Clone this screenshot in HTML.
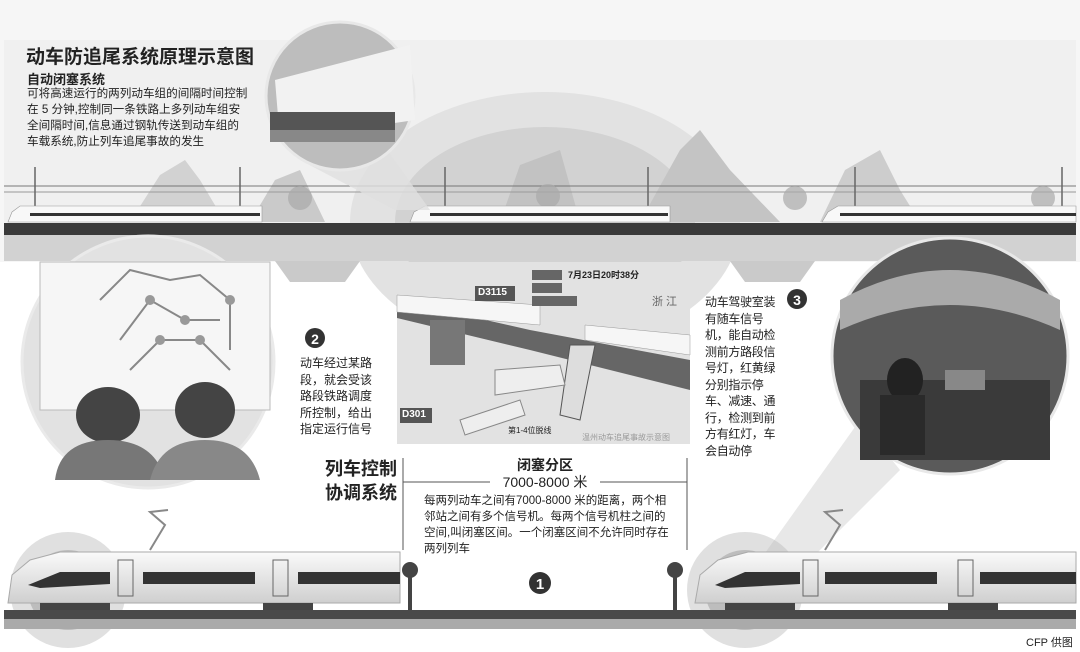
<!DOCTYPE html>
<html><head><meta charset="utf-8"><style>
body{margin:0;width:1080px;height:652px;overflow:hidden;background:#fff;font-family:"Liberation Sans","Noto Sans CJK SC",sans-serif;}
.t{position:absolute;color:#222;}
</style></head><body>
<svg width="1080" height="652" style="position:absolute;left:0;top:0">
<defs>
<linearGradient id="tr" x1="0" y1="0" x2="0" y2="1"><stop offset="0" stop-color="#fafafa"/><stop offset="1" stop-color="#cfcfcf"/></linearGradient>
</defs>
<rect x="0" y="0" width="1080" height="262" fill="#f6f6f6"/>
<rect x="4" y="40" width="1072" height="220" fill="#f0f0f0"/>
<path d="M130 222 L160 175 L185 160 L200 180 L225 222Z" fill="#d2d2d2"/>
<path d="M250 222 L275 180 L300 170 L325 222Z" fill="#cacaca"/>
<ellipse cx="545" cy="222" rx="195" ry="130" fill="#e2e2e2"/>
<ellipse cx="545" cy="222" rx="150" ry="95" fill="#d2d2d2"/>
<path d="M640 222 L680 150 L700 130 L730 170 L780 222Z" fill="#c4c4c4"/>
<path d="M820 222 L845 170 L880 150 L900 190 L920 222Z" fill="#cdcdcd"/>
<path d="M500 222 L520 165 L560 150 L580 222Z" fill="#c2c2c2"/>
<line x1="4" y1="186" x2="1076" y2="186" stroke="#777" stroke-width="1"/>
<line x1="4" y1="192" x2="1076" y2="192" stroke="#999" stroke-width="1"/>
<g stroke="#666" stroke-width="1.5"><line x1="35" y1="167" x2="35" y2="222"/><line x1="240" y1="167" x2="240" y2="222"/><line x1="445" y1="167" x2="445" y2="222"/><line x1="648" y1="167" x2="648" y2="222"/><line x1="855" y1="167" x2="855" y2="222"/><line x1="1062" y1="167" x2="1062" y2="222"/></g>
<g fill="#aaa" opacity=".7"><circle cx="300" cy="198" r="12"/><circle cx="548" cy="196" r="12"/><circle cx="795" cy="198" r="12"/><circle cx="1043" cy="198" r="12"/></g>
<g>
<path d="M8 222 L12 212 L20 206 L262 206 L262 222Z" fill="#f8f8f8" stroke="#999" stroke-width=".6"/>
<rect x="30" y="213" width="230" height="3" fill="#333"/>
<path d="M410 222 L414 212 L425 206 L670 206 L670 222Z" fill="#f8f8f8" stroke="#999" stroke-width=".6"/>
<rect x="430" y="213" width="238" height="3" fill="#333"/>
<path d="M822 222 L828 212 L838 206 L1076 206 L1076 222Z" fill="#f8f8f8" stroke="#999" stroke-width=".6"/>
<rect x="840" y="213" width="236" height="3" fill="#333"/>
</g>
<rect x="4" y="223" width="1072" height="12" fill="#3a3a3a"/>
<rect x="4" y="235" width="1072" height="26" fill="#d2d2d2"/>
<path d="M275 261 L290 282 L345 282 L360 261Z" fill="#cacaca"/>
<path d="M730 261 L745 282 L800 282 L815 261Z" fill="#cacaca"/>
<path d="M300 160 L395 210 L430 210 L380 140Z" fill="#e0e0e0" opacity=".8"/>
<circle cx="340" cy="96" r="74" fill="#bdbdbd" stroke="#e8e8e8" stroke-width="3"/>
<path d="M275 80 L410 45 L415 120 L280 140Z" fill="#f2f2f2"/>
<rect x="270" y="112" width="125" height="18" fill="#555"/>
<rect x="270" y="130" width="125" height="12" fill="#888"/>
<circle cx="148" cy="362" r="126" fill="#e2e2e2" stroke="#eaeaea" stroke-width="3"/>
<rect x="40" y="262" width="230" height="148" fill="#f6f6f6" stroke="#bbb"/>
<g stroke="#888" stroke-width="2" fill="none"><path d="M100 300 L130 270 L170 280 L200 275 L230 300 L230 350"/><path d="M120 340 L150 300 L185 320 L220 320"/><path d="M130 370 L160 340 L200 340 L230 370"/></g>
<g fill="#999"><circle cx="150" cy="300" r="5"/><circle cx="185" cy="320" r="5"/><circle cx="200" cy="340" r="5"/><circle cx="160" cy="340" r="5"/><circle cx="230" cy="300" r="5"/></g>
<ellipse cx="108" cy="415" rx="32" ry="28" fill="#444"/><path d="M55 480 Q60 440 108 440 Q155 440 165 480Z" fill="#777"/>
<ellipse cx="205" cy="410" rx="30" ry="28" fill="#444"/><path d="M150 480 Q160 440 205 440 Q250 440 260 480Z" fill="#888"/>
<path d="M760 560 L860 420 L900 470 L770 600Z" fill="#dedede" opacity=".7"/>
<circle cx="950" cy="356" r="118" fill="#5a5a5a" stroke="#e8e8e8" stroke-width="3"/>
<path d="M840 300 Q950 240 1060 300 L1060 330 Q950 280 840 330Z" fill="#aaa"/>
<rect x="860" y="380" width="190" height="80" fill="#3a3a3a"/>
<ellipse cx="905" cy="380" rx="18" ry="22" fill="#222"/>
<rect x="880" y="395" width="45" height="60" fill="#2a2a2a"/>
<rect x="945" y="370" width="40" height="20" fill="#888"/>
<rect x="397" y="262" width="293" height="182" fill="#e2e2e2"/>
<path d="M397 300 L530 330 L690 360 L690 390 L530 350 L397 318Z" fill="#666"/>
<rect x="430" y="320" width="35" height="45" fill="#777"/>
<path d="M397 295 L540 305 L540 325 L397 312Z" fill="#f6f6f6" stroke="#999" stroke-width=".5"/>
<path d="M585 325 L690 335 L690 355 L585 340Z" fill="#f6f6f6" stroke="#999" stroke-width=".5"/>
<path d="M570 345 L595 345 L580 420 L560 415Z" fill="#ddd" stroke="#555"/>
<path d="M495 370 L560 365 L565 385 L495 395Z" fill="#eee" stroke="#888"/>
<path d="M460 420 L520 400 L525 415 L465 435Z" fill="#eee" stroke="#888"/>
<rect x="532" y="270" width="30" height="10" fill="#666"/><rect x="532" y="283" width="30" height="10" fill="#666"/><rect x="532" y="296" width="45" height="10" fill="#666"/>
<rect x="475" y="286" width="40" height="15" fill="#555"/>
<rect x="400" y="408" width="32" height="15" fill="#555"/>
<line x1="403" y1="458" x2="403" y2="550" stroke="#555"/>
<line x1="687" y1="458" x2="687" y2="550" stroke="#555"/>
<line x1="403" y1="482" x2="490" y2="482" stroke="#555"/>
<line x1="600" y1="482" x2="687" y2="482" stroke="#555"/>
<g fill="#bbb" opacity=".45"><circle cx="68" cy="590" r="58"/><circle cx="745" cy="590" r="58"/></g>
<g fill="#999" opacity=".5"><circle cx="68" cy="590" r="40"/><circle cx="745" cy="590" r="40"/></g>
<path d="M150 550 L165 525 L150 512 L168 510" stroke="#888" stroke-width="2" fill="none"/>
<path d="M825 550 L840 525 L825 512 L843 510" stroke="#888" stroke-width="2" fill="none"/>
<path d="M8 603 L12 575 L30 560 L60 552 L400 552 L400 603Z" fill="url(#tr)" stroke="#aaa"/>
<path d="M695 603 L700 575 L718 560 L748 552 L1076 552 L1076 603Z" fill="url(#tr)" stroke="#aaa"/>
<g fill="#333"><rect x="143" y="572" width="112" height="12"/><rect x="298" y="572" width="102" height="12"/><rect x="825" y="572" width="112" height="12"/><rect x="980" y="572" width="96" height="12"/>
<path d="M28 585 L60 572 L110 572 L110 584 L40 588Z"/><path d="M715 585 L745 572 L800 572 L800 584 L725 588Z"/></g>
<g fill="none" stroke="#666"><rect x="118" y="560" width="15" height="36"/><rect x="273" y="560" width="15" height="36"/><rect x="803" y="560" width="15" height="36"/><rect x="958" y="560" width="15" height="36"/></g>
<g fill="#444"><rect x="40" y="603" width="70" height="10"/><rect x="263" y="603" width="50" height="10"/><rect x="725" y="603" width="70" height="10"/><rect x="948" y="603" width="50" height="10"/></g>
<g fill="#444"><rect x="408" y="575" width="4" height="40"/><circle cx="410" cy="570" r="8"/><rect x="673" y="575" width="4" height="40"/><circle cx="675" cy="570" r="8"/></g>
<rect x="4" y="610" width="1072" height="9" fill="#4a4a4a"/>
<rect x="4" y="619" width="1072" height="10" fill="#aaa"/>
<circle cx="540" cy="583" r="11" fill="#333"/><text x="540" y="589" font-size="15" font-weight="bold" fill="#fff" text-anchor="middle">1</text>
<circle cx="315" cy="338" r="10" fill="#333"/><text x="315" y="344" font-size="14" font-weight="bold" fill="#fff" text-anchor="middle">2</text>
<circle cx="797" cy="299" r="10" fill="#333"/><text x="797" y="305" font-size="14" font-weight="bold" fill="#fff" text-anchor="middle">3</text>
</svg>
<div class="t" style="left:26px;top:42px;font-size:19px;font-weight:bold;">动车防追尾系统原理示意图</div>
<div class="t" style="left:27px;top:69px;font-size:13px;font-weight:bold;">自动闭塞系统</div>
<div class="t" style="left:27px;top:86px;font-size:11.6px;line-height:16px;width:222px;">可将高速运行的两列动车组的间隔时间控制在 5 分钟,控制同一条铁路上多列动车组安全间隔时间,信息通过钢轨传送到动车组的车载系统,防止列车追尾事故的发生</div>
<div class="t" style="left:300px;top:355px;font-size:12px;line-height:16.5px;width:75px;">动车经过某路段，就会受该路段铁路调度所控制，给出指定运行信号</div>
<div class="t" style="left:705px;top:294px;font-size:12px;line-height:16.5px;width:76px;letter-spacing:-0.3px;word-break:break-all;">动车驾驶室装有随车信号机，能自动检测前方路段信号灯，红黄绿分别指示停车、减速、通行，检测到前方有红灯，车会自动停</div>
<div class="t" style="left:325px;top:457px;font-size:18px;font-weight:bold;line-height:24px;">列车控制<br>协调系统</div>
<div class="t" style="left:490px;top:455px;width:110px;text-align:center;font-size:14px;font-weight:bold;">闭塞分区</div>
<div class="t" style="left:480px;top:472px;width:130px;text-align:center;font-size:14px;">7000-8000 米</div>
<div class="t" style="left:424px;top:493px;font-size:11.5px;line-height:16px;width:250px;">每两列动车之间有7000-8000 米的距离，两个相邻站之间有多个信号机。每两个信号机柱之间的空间,叫闭塞区间。一个闭塞区间不允许同时存在两列列车</div>
<div class="t" style="left:1026px;top:634px;font-size:11px;">CFP 供图</div>
<div class="t" style="left:478px;top:287px;font-size:10px;color:#fff;font-weight:bold;">D3115</div>
<div class="t" style="left:402px;top:409px;font-size:10px;color:#fff;font-weight:bold;">D301</div>
<div class="t" style="left:568px;top:268px;font-size:9px;font-weight:bold;">7月23日20时38分</div>
<div class="t" style="left:652px;top:293px;font-size:11px;color:#666;">浙 江</div>
<div class="t" style="left:508px;top:425px;font-size:8px;">第1-4位脱线</div>
<div class="t" style="left:582px;top:432px;font-size:8px;color:#999;">温州动车追尾事故示意图</div>
</body></html>
